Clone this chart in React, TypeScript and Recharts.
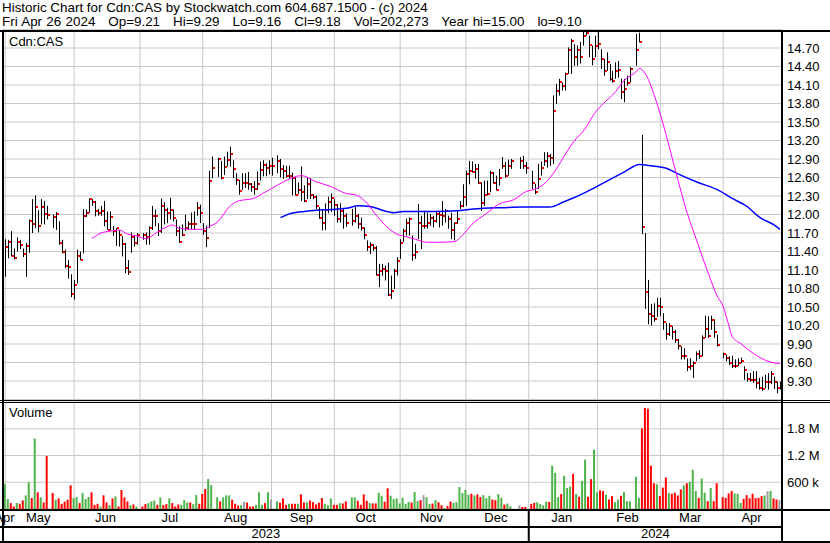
import { ComposedChart, Bar, Line, XAxis, YAxis, CartesianGrid, Cell } from 'recharts'

// each row: [high, low, close, volume in thousands]; null = market holiday
type Row = [number, number, number, number] | null

const FONT = '"Liberation Sans", Arial, Helvetica, sans-serif'

// x is the weekday index, Mon 1 May 2023 = 0
const X_DOMAIN: [number, number] = [-0.77, 259.67]
const monthStart = [0, 23, 45, 66, 89, 110, 132, 154, 175, 198, 219, 240]
const monthLabels = ['Apr', 'May', 'Jun', 'Jul', 'Aug', 'Sep', 'Oct', 'Nov', 'Dec', 'Jan', 'Feb', 'Mar', 'Apr']
const JAN_2024 = 175
const yearLabels = ['2023', '2024']

const priceTicks = [9.3, 9.6, 9.9, 10.2, 10.5, 10.8, 11.1, 11.4, 11.7, 12.0, 12.3, 12.6, 12.9, 13.2, 13.5, 13.8, 14.1, 14.4, 14.7]
const volTicks = [600000, 1200000, 1800000]
const volTickLabels = ['600 k', '1.2 M', '1.8 M']

// close on Fri 28 Apr 2023, used to colour the first volume bar
const prevClose = 11.03

const may23: Row[] = [
  [11.60, 10.99, 11.48, 562], [11.59, 11.29, 11.55, 223], [11.73, 11.32, 11.33, 132], [11.45, 11.27, 11.30, 57],
  [11.63, 11.40, 11.55, 132], [11.59, 11.44, 11.51, 117], [11.45, 11.31, 11.36, 192], [11.54, 10.99, 11.49, 305],
  [11.92, 11.38, 11.89, 600], [12.25, 11.70, 11.84, 245], [12.31, 11.78, 12.12, 1581], [12.07, 11.71, 11.81, 374],
  [12.25, 11.84, 12.12, 260], [12.22, 11.84, 12.01, 147], [12.14, 11.92, 11.99, 1189], null,
  [12.00, 11.78, 11.96, 358], [12.04, 11.75, 12.01, 208], [11.89, 11.51, 11.53, 238], [11.59, 11.37, 11.40, 117],
  [11.43, 11.13, 11.17, 162], [11.26, 10.96, 11.15, 208], [11.03, 10.66, 10.71, 532],
]
const jun23: Row[] = [
  [10.94, 10.62, 10.85, 245], [11.43, 10.88, 11.32, 268], [11.40, 11.26, 11.27, 132], [12.09, 11.37, 11.97, 358],
  [12.08, 11.96, 12.03, 223], [12.26, 12.03, 12.25, 268], [12.25, 12.14, 12.20, 374], [12.22, 11.97, 12.05, 94],
  [12.09, 11.98, 12.03, 117], [12.14, 11.98, 12.05, 57], [12.22, 11.81, 11.89, 306], [12.05, 11.75, 11.75, 147],
  [12.05, 11.73, 11.96, 87], [11.81, 11.65, 11.74, 238], [11.78, 11.49, 11.78, 283], [11.75, 11.48, 11.66, 57],
  [11.65, 11.32, 11.52, 426], [11.54, 11.05, 11.13, 260], [11.26, 11.02, 11.07, 170], [11.71, 11.38, 11.63, 87],
  [11.67, 11.48, 11.54, 102], [11.70, 11.51, 11.67, 57],
]
const jul23: Row[] = [
  null, [11.70, 11.59, 11.66, 57], [11.71, 11.51, 11.63, 110], [11.81, 11.51, 11.78, 132], [12.14, 11.75, 11.97, 170],
  [12.08, 11.81, 11.98, 192], [11.86, 11.65, 11.73, 94], [12.26, 11.70, 12.14, 260], [12.20, 11.84, 12.07, 87],
  [12.11, 11.86, 12.03, 110], [12.27, 11.92, 12.07, 238], [12.08, 11.89, 11.95, 132], [11.92, 11.65, 11.73, 57],
  [11.81, 11.54, 11.55, 102], [11.84, 11.65, 11.66, 94], [12.00, 11.73, 11.78, 200], [11.89, 11.75, 11.85, 147],
  [12.03, 11.76, 11.84, 147], [12.05, 11.75, 11.85, 110], [12.20, 11.98, 12.11, 313], [12.16, 11.86, 12.03, 117],
]
const aug23: Row[] = [
  [11.86, 11.67, 11.73, 336], [11.82, 11.47, 11.62, 449], [12.71, 11.78, 12.55, 675], [12.94, 12.59, 12.75, 532], null,
  [12.92, 12.61, 12.90, 260], [12.87, 12.57, 12.59, 170], [12.94, 12.64, 12.77, 260], [13.02, 12.78, 12.88, 305],
  [13.10, 12.78, 12.98, 305], [12.88, 12.59, 12.73, 208], [12.67, 12.48, 12.56, 117], [12.56, 12.32, 12.38, 80],
  [12.67, 12.40, 12.51, 87], [12.67, 12.43, 12.51, 162], [12.69, 12.40, 12.50, 147], [12.51, 12.37, 12.44, 57],
  [12.54, 12.32, 12.42, 57], [12.70, 12.40, 12.50, 94], [12.86, 12.55, 12.72, 374], [12.88, 12.62, 12.80, 94],
  [12.83, 12.62, 12.76, 132], [12.88, 12.65, 12.78, 374],
]
const sep23: Row[] = [
  [12.92, 12.63, 12.78, 215], null, [12.96, 12.67, 12.87, 170], [12.90, 12.60, 12.74, 140], [12.80, 12.58, 12.71, 238],
  [12.79, 12.60, 12.62, 94], [12.79, 12.58, 12.63, 117], [12.68, 12.31, 12.59, 117], [12.60, 12.31, 12.31, 117],
  [12.52, 12.33, 12.40, 117], [12.78, 12.22, 12.37, 328], [12.47, 12.20, 12.22, 147], [12.60, 12.25, 12.49, 147],
  [12.59, 12.25, 12.31, 192], [12.33, 12.25, 12.29, 155], [12.31, 12.09, 12.14, 102], [12.12, 11.93, 11.94, 140],
  [12.09, 11.74, 11.87, 245], [12.18, 11.75, 12.07, 117], [12.29, 12.02, 12.20, 87], [12.34, 12.04, 12.27, 238],
]
const oct23: Row[] = [
  [12.25, 11.98, 12.15, 94], [12.17, 11.87, 11.92, 94], [12.18, 11.87, 12.06, 132], [12.09, 11.77, 11.98, 125],
  [12.02, 11.80, 11.87, 170], null, [12.09, 11.82, 11.90, 260], [12.12, 11.87, 11.98, 260], [12.01, 11.77, 11.85, 185],
  [11.95, 11.74, 11.78, 94], [11.79, 11.60, 11.66, 328], [11.58, 11.41, 11.47, 185], [11.55, 11.36, 11.50, 132],
  [11.52, 11.41, 11.46, 125], [11.49, 11.01, 11.02, 125], [11.20, 10.82, 11.09, 366], [11.20, 11.01, 11.12, 298],
  [11.17, 10.93, 11.09, 162], [11.22, 10.68, 10.70, 464], [11.01, 10.63, 10.76, 298], [11.12, 10.79, 11.08, 223],
  [11.31, 11.01, 11.25, 238],
]
const nov23: Row[] = [
  [11.60, 11.28, 11.54, 125], [11.77, 11.55, 11.74, 253], [11.93, 11.66, 11.87, 117], [11.95, 11.66, 11.93, 162],
  [11.66, 11.25, 11.34, 147], [11.52, 11.28, 11.39, 380], [12.17, 11.60, 11.86, 175], [11.98, 11.44, 11.82, 198],
  [12.06, 11.77, 11.82, 311], [12.03, 11.77, 11.86, 266], [12.01, 11.82, 11.95, 114], [11.98, 11.79, 11.90, 122],
  [12.06, 11.87, 12.01, 198], [12.06, 11.79, 12.00, 152], [12.22, 11.82, 11.98, 84], [12.09, 11.87, 12.05, 23],
  [11.98, 11.77, 11.93, 68], [12.03, 11.60, 11.75, 167], [11.87, 11.58, 11.86, 137], [12.06, 11.85, 11.93, 152],
  [12.22, 12.09, 12.14, 494], [12.49, 12.12, 12.29, 357],
]
const dec23: Row[] = [
  [12.71, 12.14, 12.66, 426], [12.87, 12.49, 12.71, 319], [12.86, 12.68, 12.69, 342], [12.82, 12.58, 12.74, 304],
  [12.82, 12.50, 12.51, 327], [12.52, 12.06, 12.19, 266], [12.55, 12.14, 12.32, 311], [12.55, 12.31, 12.34, 243],
  [12.71, 12.36, 12.68, 296], [12.69, 12.50, 12.51, 213], [12.63, 12.39, 12.40, 198], [12.74, 12.47, 12.59, 334],
  [12.93, 12.74, 12.79, 251], [12.85, 12.60, 12.63, 99], [12.89, 12.63, 12.78, 122], [12.90, 12.74, 12.87, 60],
  null, null, [12.93, 12.74, 12.87, 84], [12.95, 12.74, 12.78, 46], [12.85, 12.66, 12.75, 46],
]
const jan24: Row[] = [
  null, [12.71, 12.41, 12.51, 114], [12.50, 12.33, 12.36, 137], [12.82, 12.41, 12.58, 152], [12.86, 12.63, 12.76, 114],
  [13.01, 12.79, 12.86, 84], [13.01, 12.76, 12.95, 167], [12.98, 12.79, 12.91, 160], [13.93, 12.82, 13.68, 973],
  [14.12, 13.79, 14.01, 814], [14.20, 13.93, 14.15, 266], [14.14, 14.01, 14.09, 334], [14.30, 14.01, 14.28, 745],
  [14.71, 14.28, 14.67, 471], [14.85, 14.28, 14.82, 502], [14.76, 14.41, 14.55, 790], [14.74, 14.41, 14.67, 334],
  [14.80, 14.45, 14.55, 274], [14.98, 14.74, 14.89, 631], [15.00, 14.90, 14.94, 1109], [14.90, 14.55, 14.75, 274],
  [14.74, 14.42, 14.52, 669], [14.90, 14.55, 14.73, 1330],
]
const feb24: Row[] = [
  [14.98, 14.68, 14.76, 380], [14.68, 14.36, 14.52, 418], [14.52, 14.25, 14.32, 403], [14.63, 14.33, 14.48, 319],
  [14.44, 14.17, 14.19, 213], [14.33, 14.14, 14.17, 289], [14.47, 14.20, 14.33, 152], [14.49, 14.22, 14.35, 213],
  [14.20, 13.87, 13.98, 296], [14.20, 13.82, 14.03, 380], [14.25, 14.09, 14.14, 175], [14.39, 14.14, 14.36, 175], null,
  [14.93, 14.41, 14.67, 722], [14.95, 14.79, 14.80, 251], [13.29, 11.68, 11.80, 1808], [11.70, 10.47, 10.75, 2265],
  [10.94, 10.22, 10.38, 2250], [10.55, 10.20, 10.36, 973], [10.56, 10.26, 10.31, 578], [10.65, 10.34, 10.52, 555],
]
const mar24: Row[] = [
  [10.65, 10.35, 10.50, 289], [10.40, 10.13, 10.25, 479], [10.24, 9.97, 10.06, 707], [10.24, 10.03, 10.19, 365],
  [10.19, 9.97, 10.09, 342], [10.13, 9.92, 9.97, 365], [9.98, 9.81, 9.86, 304], [9.86, 9.65, 9.70, 441],
  [9.83, 9.65, 9.71, 532], [9.67, 9.46, 9.52, 578], [9.67, 9.48, 9.54, 608], [9.62, 9.35, 9.60, 882],
  [9.78, 9.62, 9.73, 403], [9.80, 9.66, 9.70, 251], [10.04, 9.70, 10.00, 684], [10.36, 10.00, 10.15, 365],
  [10.35, 10.00, 10.03, 175], [10.36, 10.13, 10.29, 471], [10.30, 10.00, 10.09, 175], [10.05, 9.86, 9.88, 578], null,
]
const apr24: Row[] = [
  [9.76, 9.67, 9.73, 266], [9.73, 9.62, 9.67, 251], [9.70, 9.56, 9.59, 350], [9.71, 9.51, 9.54, 403],
  [9.65, 9.51, 9.55, 350], [9.67, 9.54, 9.59, 342], [9.68, 9.59, 9.63, 137], [9.54, 9.32, 9.48, 228],
  [9.43, 9.29, 9.33, 311], [9.43, 9.29, 9.32, 243], [9.46, 9.27, 9.31, 342], [9.46, 9.18, 9.27, 243],
  [9.35, 9.16, 9.18, 251], [9.37, 9.14, 9.17, 289], [9.40, 9.18, 9.28, 304], [9.43, 9.16, 9.28, 395],
  [9.46, 9.25, 9.41, 403], [9.37, 9.17, 9.29, 236], [9.29, 9.10, 9.18, 213], [9.29, 9.16, 9.18, 202],
]

// moving averages: [weekday index, value]
const maFast: [number, number][] = [
  [29, 11.61], [32, 11.70], [35, 11.73], [38, 11.75], [41, 11.68], [44, 11.65], [47, 11.61], [51, 11.72],
  [54, 11.80], [56, 11.83], [58, 11.78], [62, 11.76], [66, 11.76], [68, 11.80], [71, 11.88], [75, 12.13],
  [78, 12.22], [83, 12.26], [86, 12.34], [89, 12.42], [93, 12.53], [99, 12.63], [104, 12.53], [109, 12.45],
  [114, 12.34], [117, 12.32], [121, 12.18], [124, 11.99], [128, 11.78], [131, 11.68], [134, 11.64], [137, 11.60],
  [141, 11.55], [145, 11.55], [150, 11.56], [153, 11.67], [156, 11.84], [161, 12.02], [165, 12.17], [170, 12.24],
  [174, 12.37], [177, 12.41], [180, 12.49], [184, 12.72], [187, 12.96], [190, 13.18], [194, 13.40], [197, 13.64],
  [200, 13.80], [204, 13.99], [207, 14.18], [211, 14.32], [212, 14.37], [214, 14.28], [218, 13.78], [221, 13.28],
  [224, 12.72], [228, 12.02], [231, 11.60], [235, 11.05], [238, 10.68], [240, 10.51], [242, 10.18], [243, 10.02],
  [246, 9.90], [250, 9.75], [255, 9.62], [259, 9.58],
]
const maSlow: [number, number][] = [
  [92, 11.95], [95, 12.01], [100, 12.05], [104, 12.07], [109, 12.08], [114, 12.10], [118, 12.14], [122, 12.13],
  [126, 12.07], [130, 12.03], [133, 12.05], [139, 12.05], [144, 12.05], [151, 12.06], [155, 12.08], [160, 12.10],
  [166, 12.11], [173, 12.12], [182, 12.12], [187, 12.21], [194, 12.36], [198, 12.46], [203, 12.59], [207, 12.69],
  [212, 12.81], [216, 12.79], [221, 12.75], [224, 12.68], [231, 12.53], [239, 12.38], [243, 12.26], [248, 12.13],
  [252, 11.96], [257, 11.83], [259, 11.76],
]

interface Day {
  i: number
  range?: [number, number]
  hi?: number
  lo?: number
  cl?: number
  vol?: number
  dir?: number
  maFast?: number
  maSlow?: number
}

const months = [may23, jun23, jul23, aug23, sep23, oct23, nov23, dec23, jan24, feb24, mar24, apr24]

function buildData() {
  const byIndex = new Map<number, Day>()
  const get = (i: number) => {
    if (!byIndex.has(i)) byIndex.set(i, { i })
    return byIndex.get(i)!
  }
  let prev = prevClose
  months.forEach((rows, m) => {
    rows.forEach((r, k) => {
      if (!r) return
      const [hi, lo, cl, vol] = r
      const d = get(monthStart[m] + k)
      d.range = [lo, hi]
      d.hi = hi
      d.lo = lo
      d.cl = cl
      d.vol = vol * 1000
      d.dir = cl > prev ? 1 : cl < prev ? -1 : 0
      prev = cl
    })
  })
  maFast.forEach(([i, v]) => { get(i).maFast = v })
  maSlow.forEach(([i, v]) => { get(i).maSlow = v })
  return [...byIndex.values()].sort((a, b) => a.i - b.i)
}

const data = buildData()
const volData = data.filter((d) => d.vol != null)

const monthTicks = [-0.3, ...monthStart.map((s, k) => (s + (monthStart[k + 1] ?? X_DOMAIN[1] + 0.33) - 1) / 2)]
const yearTicks = [(X_DOMAIN[0] + JAN_2024) / 2, JAN_2024, (JAN_2024 + X_DOMAIN[1]) / 2]

function OhlcShape(props: any) {
  const { x, y, width, height, payload } = props
  if (payload.hi == null) return null
  const cx = Math.round(x + width / 2)
  const span = payload.hi - payload.lo
  const yc = span > 0 ? y + ((payload.hi - payload.cl) / span) * height : y
  return (
    <g>
      <rect x={cx} y={y} width={1} height={Math.max(height, 1)} fill="#000" />
      <rect x={cx + 1} y={Math.round(yc) - 1} width={2} height={2} fill="#ff0000" />
    </g>
  )
}

function YearTick(props: any) {
  const { x, y, payload } = props
  if (payload.value === JAN_2024) {
    return <line x1={x} x2={x} y1={y - 18} y2={y + 16} stroke="#000" strokeWidth={2} />
  }
  const label = payload.value < JAN_2024 ? yearLabels[0] : yearLabels[1]
  return (
    <text x={x} y={y} dy={11} textAnchor="middle" fontSize={13} fill="#000" fontFamily={FONT}>
      {label}
    </text>
  )
}

const tickStyle = { fill: '#000', fontSize: 13, fontFamily: FONT }
const volColor = (dir?: number) => (dir === 1 ? '#4db34a' : dir === -1 ? '#ff0000' : '#a0a0a0')

function Rule({ left, top, width, height }: { left: number; top: number; width: number; height: number }) {
  return <div style={{ position: 'absolute', left, top, width, height, background: '#000' }} />
}

const titleStyle = {
  position: 'absolute' as const,
  left: 2,
  fontSize: 13.4,
  lineHeight: '13px',
  whiteSpace: 'pre' as const,
  color: '#000',
}

export default function App() {
  return (
    <div
      style={{
        position: 'absolute',
        left: 0,
        top: 0,
        width: 830,
        height: 543,
        background: '#fff',
        fontFamily: FONT,
        overflow: 'hidden',
      }}
    >
      <div style={{ ...titleStyle, top: 1 }}>Historic Chart for Cdn:CAS by Stockwatch.com 604.687.1500 - (c) 2024</div>
      <div style={{ ...titleStyle, top: 14.5, wordSpacing: 0.6 }}>
        {'Fri Apr 26 2024   Op=9.21   Hi=9.29   Lo=9.16   Cl=9.18   Vol=202,273   Year hi=15.00   lo=9.10'}
      </div>

      <div style={{ position: 'absolute', left: 0, top: 0 }}>
        <ComposedChart width={830} height={400} data={data} margin={{ top: 29.5, right: 0, left: 3, bottom: 0.5 }}>
          <CartesianGrid stroke="#c8c8c8" strokeWidth={1} />
          <XAxis dataKey="i" type="number" domain={X_DOMAIN} allowDataOverflow ticks={monthStart} height={0} hide />
          <YAxis
            orientation="right"
            domain={[9, 15]}
            allowDataOverflow
            ticks={priceTicks}
            interval={0}
            tickFormatter={(v: number) => v.toFixed(2)}
            tick={tickStyle}
            axisLine={false}
            tickLine={false}
            tickSize={0}
            tickMargin={5}
            width={48}
          />
          <Line dataKey="maSlow" type="monotone" stroke="#0000ff" strokeWidth={1.5} dot={false} connectNulls isAnimationActive={false} />
          <Line dataKey="maFast" type="monotone" stroke="#ff00ff" strokeWidth={1} dot={false} connectNulls isAnimationActive={false} />
          <Bar dataKey="range" barSize={1} shape={OhlcShape} isAnimationActive={false} />
        </ComposedChart>
      </div>

      <div style={{ position: 'absolute', left: 0, top: 400 }}>
        <ComposedChart width={830} height={143} data={volData} margin={{ top: 2, right: 0, left: 3, bottom: 2 }}>
          <CartesianGrid stroke="#c8c8c8" strokeWidth={1} />
          <XAxis
            xAxisId="months"
            dataKey="i"
            type="number"
            domain={X_DOMAIN}
            allowDataOverflow
            ticks={monthTicks}
            interval={0}
            tickFormatter={(v: number) => monthLabels[monthTicks.indexOf(v)] ?? ''}
            tick={tickStyle}
            axisLine={false}
            tickLine={false}
            tickSize={0}
            tickMargin={4}
            height={18}
          />
          <XAxis
            xAxisId="years"
            dataKey="i"
            type="number"
            domain={X_DOMAIN}
            allowDataOverflow
            ticks={yearTicks}
            interval={0}
            tick={YearTick}
            axisLine={false}
            tickLine={false}
            tickSize={0}
            tickMargin={0}
            height={14}
          />
          <XAxis dataKey="i" type="number" domain={X_DOMAIN} allowDataOverflow ticks={monthStart} height={0} hide />
          <YAxis
            orientation="right"
            domain={[0, 2400000]}
            allowDataOverflow
            ticks={volTicks}
            interval={0}
            tickFormatter={(v: number) => volTickLabels[volTicks.indexOf(v)] ?? ''}
            tick={tickStyle}
            axisLine={false}
            tickLine={false}
            tickSize={0}
            tickMargin={5}
            width={48}
          />
          <Bar dataKey="vol" barSize={2} isAnimationActive={false}>
            {volData.map((d) => (
              <Cell key={d.i} fill={volColor(d.dir)} />
            ))}
          </Bar>
        </ComposedChart>
      </div>

      <div style={{ position: 'absolute', left: 9, top: 34, fontSize: 13, color: '#000' }}>Cdn:CAS</div>
      <div style={{ position: 'absolute', left: 9, top: 405, fontSize: 13, color: '#000' }}>Volume</div>

      {/* frame */}
      <Rule left={0} top={30} width={830} height={2} />
      <Rule left={2} top={30} width={2} height={513} />
      <Rule left={0} top={400} width={830} height={1} />
      <Rule left={0} top={402} width={830} height={1} />
      <Rule left={0} top={509} width={830} height={2} />
      <Rule left={0} top={526} width={782} height={2} />
      <Rule left={0} top={541} width={830} height={2} />
      <Rule left={781} top={30} width={2} height={513} />
    </div>
  )
}
